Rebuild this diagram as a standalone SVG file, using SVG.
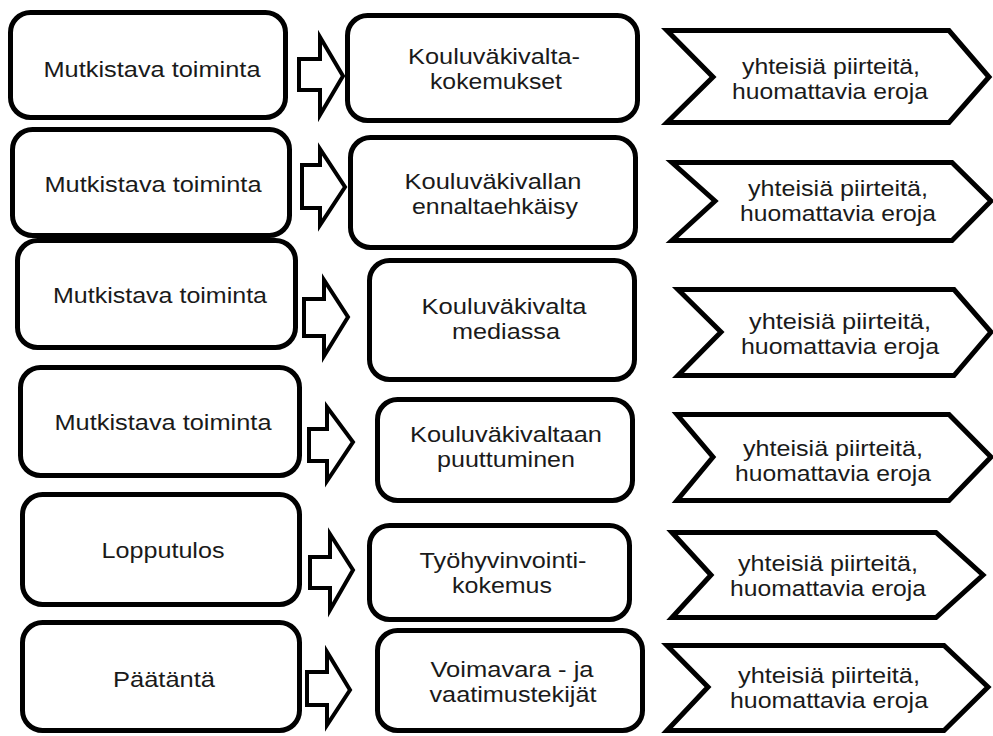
<svg xmlns="http://www.w3.org/2000/svg" width="993" height="736" viewBox="0 0 993 736">
<style>
.box{fill:#fff;stroke:#000;stroke-width:5}
.chev{fill:#fff;stroke:#000;stroke-width:5;stroke-linejoin:miter;stroke-miterlimit:10}
.arr{fill:#fff;stroke:#000;stroke-width:4;stroke-linejoin:miter;stroke-miterlimit:10}
text{font-family:"Liberation Sans",Arial,sans-serif;font-size:22.5px;fill:#1a1a1a;text-anchor:middle}
</style>
<rect width="993" height="736" fill="#fff"/>
<g id="connectors">
<path class="arr" d="M299,59 H320 V37 L343,76 L320,115 V90 H299 Z"/>
<path class="arr" d="M302,165 H320 V149 L345,187 L320,225 V208 H302 Z"/>
<path class="arr" d="M304,299 H324 V280 L348,317 L324,356 V336 H304 Z"/>
<path class="arr" d="M309,429 H327 V407 L353,442 L327,481 V461 H309 Z"/>
<path class="arr" d="M310,557 H330 V534 L353,570 L330,610 V588 H310 Z"/>
<path class="arr" d="M307,672 H327 V652 L350,690 L327,725 V705 H307 Z"/>
</g>
<g id="left1"><rect class="box" x="10.5" y="12.5" width="275" height="105" rx="20"/><text x="152" y="77" textLength="217" lengthAdjust="spacingAndGlyphs">Mutkistava toiminta</text></g>
<g id="left2"><rect class="box" x="12.5" y="129.5" width="277" height="106" rx="20"/><text x="153" y="192" textLength="217" lengthAdjust="spacingAndGlyphs">Mutkistava toiminta</text></g>
<g id="left3"><rect class="box" x="17.5" y="240.5" width="278" height="107" rx="20"/><text x="160" y="303" textLength="214" lengthAdjust="spacingAndGlyphs">Mutkistava toiminta</text></g>
<g id="left4"><rect class="box" x="20.5" y="367.5" width="279" height="108" rx="20"/><text x="163" y="430" textLength="217" lengthAdjust="spacingAndGlyphs">Mutkistava toiminta</text></g>
<g id="left5"><rect class="box" x="22.5" y="494.5" width="277" height="110" rx="20"/><text x="163" y="558" textLength="123" lengthAdjust="spacingAndGlyphs">Lopputulos</text></g>
<g id="left6"><rect class="box" x="22.5" y="622.5" width="277" height="108" rx="20"/><text x="164" y="687" textLength="102" lengthAdjust="spacingAndGlyphs">Päätäntä</text></g>
<g id="mid1"><rect class="box" x="347.5" y="15.5" width="290" height="105" rx="20"/><text x="494" y="64" textLength="172" lengthAdjust="spacingAndGlyphs">Kouluväkivalta-</text><text x="496" y="89" textLength="132" lengthAdjust="spacingAndGlyphs">kokemukset</text></g>
<g id="mid2"><rect class="box" x="350.5" y="137.5" width="285" height="110" rx="20"/><text x="493" y="189" textLength="177" lengthAdjust="spacingAndGlyphs">Kouluväkivallan</text><text x="495" y="214" textLength="166" lengthAdjust="spacingAndGlyphs">ennaltaehkäisy</text></g>
<g id="mid3"><rect class="box" x="369.5" y="260.5" width="265" height="119" rx="20"/><text x="504" y="314" textLength="165" lengthAdjust="spacingAndGlyphs">Kouluväkivalta</text><text x="506" y="339" textLength="108" lengthAdjust="spacingAndGlyphs">mediassa</text></g>
<g id="mid4"><rect class="box" x="377.5" y="399.5" width="255" height="101" rx="20"/><text x="506" y="442" textLength="192" lengthAdjust="spacingAndGlyphs">Kouluväkivaltaan</text><text x="506" y="467" textLength="138" lengthAdjust="spacingAndGlyphs">puuttuminen</text></g>
<g id="mid5"><rect class="box" x="369.5" y="525.5" width="260" height="94" rx="20"/><text x="503" y="568" textLength="167" lengthAdjust="spacingAndGlyphs">Työhyvinvointi-</text><text x="502" y="593" textLength="100" lengthAdjust="spacingAndGlyphs">kokemus</text></g>
<g id="mid6"><rect class="box" x="377.5" y="630.5" width="265" height="100" rx="20"/><text x="512" y="677" textLength="163" lengthAdjust="spacingAndGlyphs">Voimavara - ja</text><text x="513" y="702" textLength="167" lengthAdjust="spacingAndGlyphs">vaatimustekijät</text></g>
<g id="right1"><path class="chev" d="M667,30.5 H949 L989,77 L949,122.5 H667 L713,77 Z"/><text x="831" y="74" textLength="178" lengthAdjust="spacingAndGlyphs">yhteisiä piirteitä,</text><text x="830" y="99" textLength="196" lengthAdjust="spacingAndGlyphs">huomattavia eroja</text></g>
<g id="right2"><path class="chev" d="M672,162.5 H952 L991,201 L952,240.5 H672 L715,201 Z"/><text x="838" y="196" textLength="180" lengthAdjust="spacingAndGlyphs">yhteisiä piirteitä,</text><text x="838" y="221" textLength="196" lengthAdjust="spacingAndGlyphs">huomattavia eroja</text></g>
<g id="right3"><path class="chev" d="M678,289.5 H954 L991,332 L954,375.5 H678 L721,332 Z"/><text x="840" y="329" textLength="182" lengthAdjust="spacingAndGlyphs">yhteisiä piirteitä,</text><text x="840" y="354" textLength="198" lengthAdjust="spacingAndGlyphs">huomattavia eroja</text></g>
<g id="right4"><path class="chev" d="M677,414.5 H949 L991,457 L949,500.5 H677 L713,457 Z"/><text x="833" y="456" textLength="180" lengthAdjust="spacingAndGlyphs">yhteisiä piirteitä,</text><text x="833" y="481" textLength="196" lengthAdjust="spacingAndGlyphs">huomattavia eroja</text></g>
<g id="right5"><path class="chev" d="M672,532.5 H936 L983,575 L936,617.5 H672 L711,575 Z"/><text x="828" y="571" textLength="180" lengthAdjust="spacingAndGlyphs">yhteisiä piirteitä,</text><text x="828" y="596" textLength="196" lengthAdjust="spacingAndGlyphs">huomattavia eroja</text></g>
<g id="right6"><path class="chev" d="M667,645.5 H944 L988,687 L944,730.5 H667 L708,687 Z"/><text x="829" y="683" textLength="182" lengthAdjust="spacingAndGlyphs">yhteisiä piirteitä,</text><text x="829" y="708" textLength="198" lengthAdjust="spacingAndGlyphs">huomattavia eroja</text></g>
</svg>
